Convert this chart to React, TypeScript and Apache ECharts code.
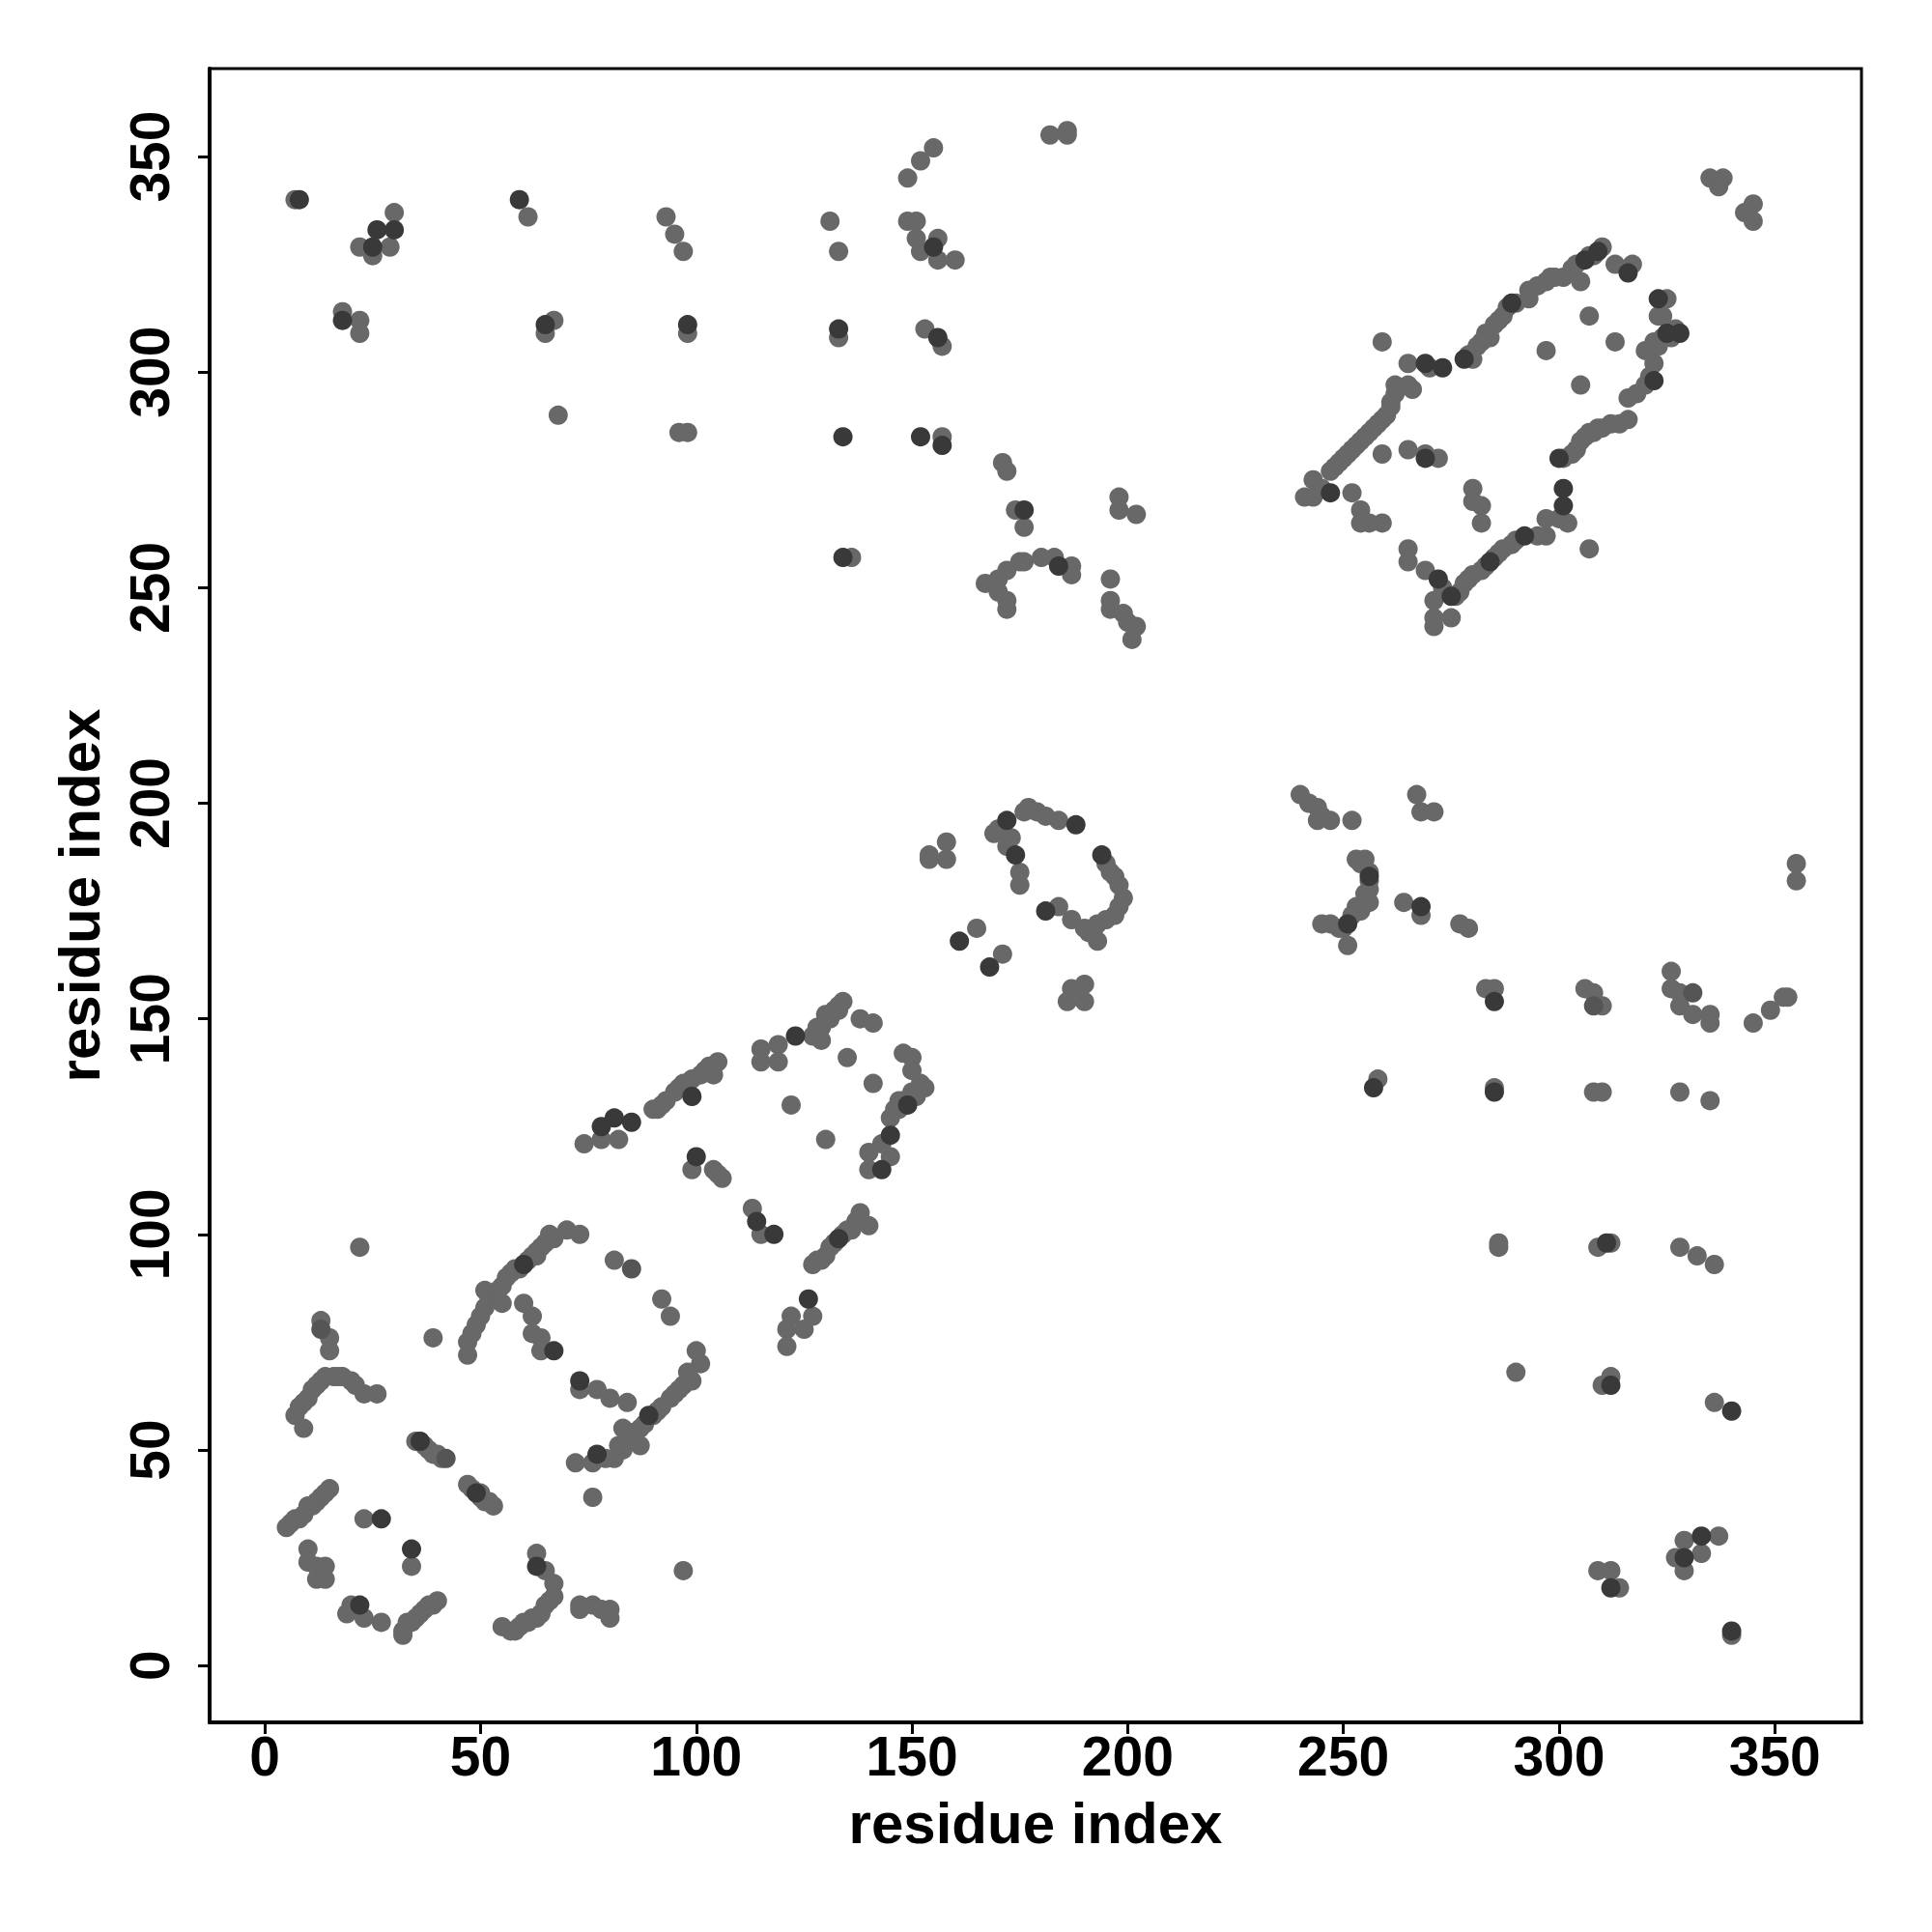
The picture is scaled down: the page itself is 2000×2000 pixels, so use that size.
import React, { useEffect, useRef } from "react";
import * as echarts from "echarts";

// Contact points [residue i, residue j, shade level (1 light, 2 mid, 3 dark)]
const lowerLeftBlock: number[][] = [
  [5, 32], [6, 33], [7, 34], [8, 34], [9, 35], [10, 37], [11, 37], [12, 38], [13, 39], [14, 40], [15, 41],
  [10, 27], [10, 24], [12, 23], [14, 23], [12, 20], [14, 20],
  [20, 14], [22, 14, 3], [23, 11], [27, 10], [19, 12],
  [32, 7], [32, 8], [33, 10], [34, 10], [35, 11], [36, 12], [37, 13], [38, 14], [39, 14], [40, 15],
  [27, 34, 3], [23, 34], [34, 27, 3], [34, 23],
  [22, 97],
  [13, 80], [13, 78, 2], [15, 76], [15, 73],
  [9, 55], [7, 58], [8, 60], [9, 61], [10, 62], [11, 64], [12, 65], [13, 66], [14, 67], [16, 67], [17, 67],
  [18, 67], [20, 66], [21, 65], [23, 63], [26, 63],
  [39, 76],
  [35, 52], [36, 52, 3], [37, 51], [38, 50], [39, 49], [40, 49], [41, 48], [42, 48, 2],
  [47, 42], [48, 41], [49, 40, 3], [50, 39], [50, 40], [51, 38], [52, 38], [53, 37],
  [47, 72], [47, 75], [48, 77], [49, 79], [50, 81], [51, 83], [52, 85], [53, 86], [51, 87], [54, 87], [55, 84],
  [55, 88], [56, 90], [57, 91], [58, 92], [59, 92], [60, 93, 3], [61, 94], [62, 95], [63, 95], [63, 96],
  [64, 97], [65, 98], [66, 100], [67, 99], [70, 101], [73, 100],
  [60, 84], [62, 81], [62, 77], [64, 76], [64, 73], [67, 73, 3],
  [76, 39],
  [81, 94], [85, 92, 2], [92, 85], [94, 81],
  [73, 66, 3], [73, 64], [77, 64], [80, 62], [84, 61],
  [100, 73], [101, 70], [98, 68], [99, 66], [97, 65], [96, 64], [95, 63], [94, 62], [92, 60], [91, 59],
  [90, 58], [89, 58, 3], [88, 56], [87, 55], [86, 54], [85, 54], [84, 52], [83, 55], [82, 51],
  [83, 50], [87, 51], [81, 48], [79, 48], [77, 49, 3], [76, 47], [72, 47],
  [97, 22],
  [63, 26], [63, 23, 3], [65, 22], [67, 19], [67, 16], [66, 15], [65, 14], [64, 12], [63, 11], [62, 11],
  [61, 10], [60, 10], [59, 9], [58, 8], [57, 8], [55, 9],
  [73, 14], [76, 14], [78, 13], [80, 13], [80, 11], [73, 13],
];

const diagonalBand: number[][] = [
  [74, 121], [78, 125, 3], [81, 127, 3], [85, 126, 3], [78, 122], [82, 122],
  [90, 129], [91, 129], [92, 130], [93, 131], [95, 133], [96, 134], [97, 135], [98, 135], [99, 136],
  [101, 137], [102, 138], [103, 139], [104, 139], [105, 140], [104, 137], [99, 132, 3],
  [115, 143], [119, 144], [123, 146, 3], [115, 140], [119, 140],
  [127, 146], [129, 145], [128, 148], [129, 148], [130, 151], [131, 150], [132, 152], [133, 152], [133, 153],
  [134, 154], [138, 150], [141, 149],
  [135, 141], [141, 135], [122, 130], [130, 122],
  [148, 142], [150, 141], [150, 138], [152, 135], [153, 134], [151, 132], [150, 133], [148, 131], [147, 131],
  [149, 130, 3], [147, 129], [146, 129], [145, 127],
  [145, 123, 3], [143, 121], [140, 119], [145, 118], [140, 115], [143, 115, 3],
  [100, 118, 3], [99, 115], [104, 115], [105, 114], [106, 113],
  [113, 106], [114, 103, 3], [118, 100, 3], [115, 100],
  [138, 105], [137, 103], [140, 102], [136, 101], [135, 101], [134, 100], [133, 99, 3], [132, 98], [131, 97],
  [130, 95], [129, 94], [128, 94], [127, 93],
  [126, 85, 3], [122, 81], [127, 81], [125, 78], [121, 78], [121, 74],
];

const middleLoop: number[][] = [
  [154, 188], [158, 191], [154, 187], [158, 187],
  [169, 193], [170, 194], [172, 196, 3], [173, 192], [172, 190], [174, 188, 3], [175, 184], [175, 181],
  [176, 198], [177, 199], [179, 198], [181, 197], [184, 196], [188, 195, 3], [194, 188, 3], [195, 186],
  [196, 184], [197, 183], [198, 181], [199, 178], [198, 176],
  [197, 174], [195, 173], [193, 172], [191, 170], [190, 171], [192, 170], [193, 168], [187, 173], [184, 176],
  [181, 175, 3],
  [165, 171], [161, 168, 3], [171, 165], [168, 162, 3],
  [187, 157], [190, 158], [186, 154], [190, 154],
];

const upperRightBlock: number[][] = [
  [335, 345], [338, 345], [337, 343], [345, 339], [343, 337], [345, 335],
  [241, 271], [243, 271], [243, 275], [245, 273], [247, 272, 3], [247, 277], [248, 278], [249, 279], [250, 280],
  [251, 281], [252, 282], [253, 283], [254, 284], [255, 285], [256, 286], [257, 287], [258, 288], [259, 289],
  [260, 290], [261, 292], [261, 293], [262, 295], [262, 297], [259, 281], [265, 302], [265, 297], [266, 296],
  [269, 302, 3], [270, 301], [273, 301, 3],
  [252, 272], [254, 268], [254, 265], [256, 265], [259, 265],
  [259, 307],
  [265, 282], [269, 281], [269, 280, 3], [272, 280], [280, 273], [280, 270], [282, 269], [282, 265],
  [265, 259], [265, 256], [269, 254], [272, 252, 3], [273, 250], [271, 247], [271, 243], [271, 241], [275, 243],
  [275, 248, 3], [276, 248], [277, 249], [278, 251], [279, 252], [280, 253], [282, 254], [283, 255],
  [284, 256, 3], [285, 257], [286, 258], [287, 259], [289, 260], [290, 261], [292, 262, 3],
  [295, 262], [297, 262], [297, 266], [300, 266], [301, 269, 3], [301, 273, 3], [302, 265],
  [307, 259],
  [300, 280, 3], [301, 280], [303, 281], [304, 282], [305, 284], [306, 285], [307, 286], [308, 286],
  [309, 287], [310, 287], [312, 288], [314, 288], [316, 289], [316, 294], [318, 295],
  [320, 297], [321, 299], [322, 298, 3], [322, 302], [320, 305], [322, 307], [323, 306], [324, 308],
  [325, 309, 3], [326, 308], [327, 310], [328, 309, 3],
  [323, 313], [324, 313], [323, 317, 3], [325, 317],
  [307, 313], [313, 307], [297, 305], [305, 297],
  [278, 303, 3], [279, 304], [280, 303], [281, 306], [282, 307], [283, 309], [284, 308], [285, 311], [286, 312],
  [287, 313], [288, 315], [289, 316, 3], [290, 316],
  [293, 317], [293, 319], [295, 320], [297, 321], [298, 322], [299, 322], [301, 322], [303, 324], [304, 325],
  [305, 321], [306, 326, 3], [307, 327], [308, 327], [309, 328, 3], [310, 329], [313, 325], [317, 325],
  [316, 323, 3],
];

const topLeftOff: number[][] = [
  [7, 340], [8, 340, 3], [30, 337], [30, 333, 3], [26, 333, 3], [25, 329, 3], [22, 329], [29, 329], [25, 327],
  [18, 314], [18, 312, 3], [22, 312], [22, 309],
  [59, 340, 3], [61, 336],
  [65, 311, 3], [67, 312], [65, 309],
  [68, 290],
  [93, 336], [95, 332], [97, 328],
  [98, 311, 3], [98, 309],
  [98, 286], [96, 286],
  [182, 355], [186, 355], [186, 356],
  [155, 352], [152, 349], [149, 345],
  [131, 335], [149, 335], [151, 335], [151, 331], [156, 331], [152, 328], [155, 329, 3], [156, 326], [160, 326],
  [133, 328],
  [133, 310, 3], [133, 308], [153, 310], [156, 308, 3], [157, 306],
  [134, 285, 3], [152, 285, 3], [157, 285], [157, 283, 3],
  [171, 279], [172, 277],
  [174, 268], [176, 268, 3], [176, 264],
  [198, 271], [198, 268], [202, 267],
  [134, 257, 3], [136, 257],
  [167, 251], [170, 249], [170, 252], [172, 247], [172, 245], [172, 254], [175, 256], [176, 256], [180, 257],
  [183, 257], [184, 255, 3], [187, 255], [187, 253],
  [196, 252], [196, 247], [196, 245], [199, 244], [200, 242], [202, 241], [201, 238],
];

const bottomRightOff: number[][] = [
  [240, 202], [242, 200], [244, 199], [245, 197], [247, 196], [244, 196], [252, 196],
  [267, 202], [268, 198], [271, 198],
  [253, 187], [255, 187], [254, 186], [256, 184], [256, 183, 3], [256, 182], [256, 180], [255, 179],
  [256, 177], [254, 175], [253, 176], [252, 174],
  [251, 172, 3], [250, 171], [249, 171], [251, 167], [245, 172], [247, 172],
  [264, 177], [268, 176, 3], [268, 174],
  [277, 172], [279, 171],
  [355, 186], [355, 182],
  [283, 157], [285, 157], [285, 154, 3], [306, 157], [308, 156], [308, 153, 2], [310, 153],
  [326, 161], [326, 157], [328, 156], [331, 156, 2], [328, 153], [331, 151], [335, 151], [335, 149],
  [345, 149], [349, 152], [352, 155], [353, 155],
  [258, 136], [257, 134, 3], [285, 134], [285, 133, 3], [308, 133], [310, 133], [328, 133], [335, 131],
  [286, 98], [286, 97], [311, 98, 3], [309, 97], [312, 98], [328, 97], [332, 95], [336, 93],
  [290, 68], [312, 67], [310, 65], [312, 65, 3],
  [336, 61], [340, 59, 3],
  [329, 29], [333, 30, 3], [337, 30], [327, 25], [329, 25, 3], [333, 26], [329, 22],
  [309, 22], [312, 22], [312, 18, 3], [314, 18],
  [340, 8, 3], [340, 7],
];

const tickValues = [0, 50, 100, 150, 200, 250, 300, 350];
const axisTitle = "residue index";

const shadeColors: Record<number, string> = { 1: "#686868", 2: "#555555", 3: "#393939" };

export default function App() {
  const ref = useRef<HTMLDivElement>(null);

  useEffect(() => {
    if (!ref.current) return;
    const chart = echarts.init(ref.current, null, { renderer: "svg" });
    const all = [
      ...lowerLeftBlock,
      ...diagonalBand,
      ...middleLoop,
      ...upperRightBlock,
      ...topLeftOff,
      ...bottomRightOff,
    ].map((p) => [p[0], p[1], p[2] ?? 1]);

    const makeSeries = (level: number) => ({
      type: "scatter",
      symbol: "circle",
      symbolSize: 20,
      data: all.filter((p) => p[2] === level).map((p) => [p[0], p[1]]),
      itemStyle: { color: shadeColors[level], opacity: 1 },
      emphasis: { disabled: true },
      silent: true,
    });

    const font = "'Liberation Sans', Arial, sans-serif";
    const commonAxis = {
      type: "value",
      nameLocation: "middle",
      name: axisTitle,
      nameTextStyle: { fontSize: 60, fontWeight: "bold", color: "#000", fontFamily: font },
      axisLine: { show: true, onZero: false, lineStyle: { color: "#000", width: 4 } },
      axisTick: { show: true, length: 12, lineStyle: { color: "#000", width: 3 }, customValues: tickValues },
      splitLine: { show: false },
    };

    chart.setOption({
      animation: false,
      backgroundColor: "#ffffff",
      grid: {
        left: 217,
        top: 71,
        width: 1710,
        height: 1712,
        show: true,
        borderColor: "#000",
        borderWidth: 3,
        backgroundColor: "transparent",
      },
      xAxis: {
        ...commonAxis,
        min: -12.8,
        max: 370.1,
        nameGap: 74,
        axisLabel: {
          customValues: tickValues,
          fontSize: 57,
          fontWeight: "bold",
          color: "#000",
          fontFamily: font,
          margin: 6,
        },
      },
      yAxis: {
        ...commonAxis,
        min: -13.2,
        max: 370.4,
        nameGap: 105,
        axisLabel: {
          customValues: tickValues,
          rotate: 90,
          fontSize: 57,
          fontWeight: "bold",
          color: "#000",
          fontFamily: font,
          margin: 34,
        },
      },
      series: [makeSeries(1), makeSeries(2), makeSeries(3)],
    });

    return () => chart.dispose();
  }, []);

  return (
    <div
      ref={ref}
      style={{ position: "absolute", left: 0, top: 0, width: 2000, height: 2000, background: "#fff" }}
    />
  );
}
